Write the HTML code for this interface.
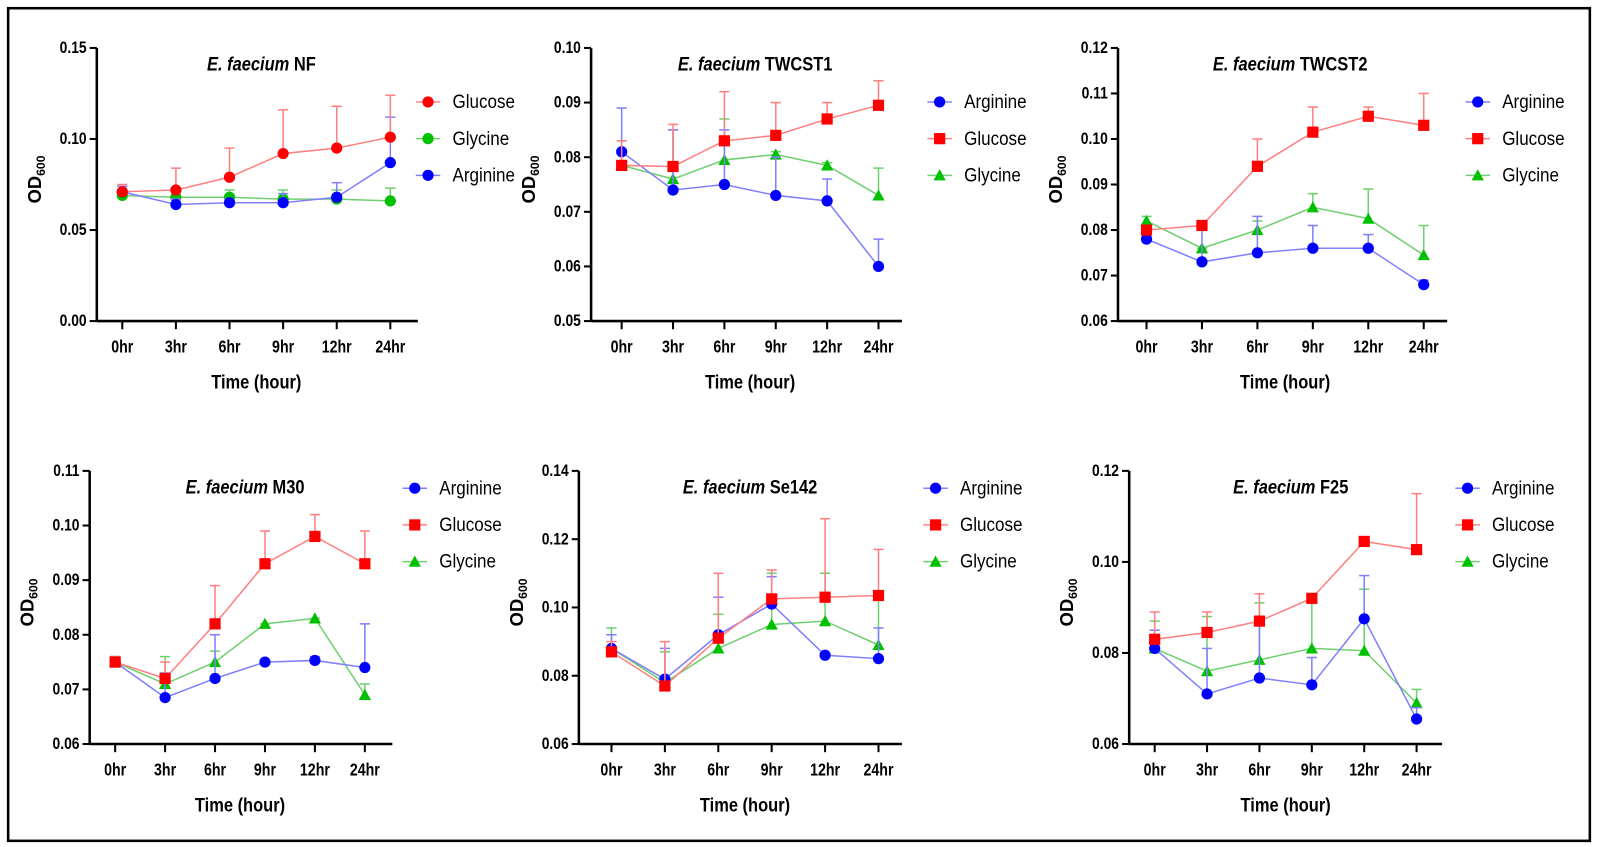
<!DOCTYPE html>
<html><head><meta charset="utf-8"><style>
html,body{margin:0;padding:0;background:#fff;}
svg{display:block;font-family:"Liberation Sans Narrow","Liberation Sans",sans-serif;}
</style></head><body>
<svg id="fig" width="1598" height="847" viewBox="0 0 1568 831" xmlns="http://www.w3.org/2000/svg">
<rect x="8" y="8" width="1552" height="817" fill="#fff" stroke="#000" stroke-width="2.5"/>
</svg>
<script>
const times = ["0hr","3hr","6hr","9hr","12hr","24hr"];
const titles = ["NF","TWCST1","TWCST2","M30","Se142","F25"];
const yTicks = [[0,0.05,0.10,0.15],[0.05,0.06,0.07,0.08,0.09,0.10],[0.06,0.07,0.08,0.09,0.10,0.11,0.12],[0.06,0.07,0.08,0.09,0.10,0.11],[0.06,0.08,0.10,0.12,0.14],[0.06,0.08,0.10,0.12]];
const legendOrder = [["Glucose","Glycine","Arginine"],["Arginine","Glucose","Glycine"],["Arginine","Glucose","Glycine"],["Arginine","Glucose","Glycine"],["Arginine","Glucose","Glycine"],["Arginine","Glucose","Glycine"]];
const arginine = [[.071,.064,.065,.065,.068,.087],[.081,.074,.075,.073,.072,.060],[.078,.073,.075,.076,.076,.068],[.075,.0685,.072,.075,.0753,.074],[.088,.079,.092,.101,.086,.085],[.081,.071,.0745,.073,.0875,.0655]];
const arginineErr = [[.074,.067,.067,.070,.076,.112],[.089,.085,.085,.080,.076,.065],[.079,.080,.083,.081,.079,.069],[.076,.073,.080,.075,.076,.082],[.092,.088,.103,.109,.086,.094],[.085,.081,.086,.079,.097,.068]];
const glucose = [[.071,.072,.079,.092,.095,.101],[.0785,.0783,.083,.084,.087,.0895],[.080,.081,.094,.1015,.105,.103],[.075,.072,.082,.093,.098,.093],[.087,.077,.091,.1025,.103,.1035],[.083,.0845,.087,.092,.1045,.1027]];
const glucoseErr = [[.075,.084,.095,.116,.118,.124],[.083,.086,.092,.090,.090,.094],[.081,.082,.100,.107,.107,.110],[.076,.075,.089,.099,.102,.099],[.090,.090,.110,.111,.126,.117],[.089,.089,.093,.092,.104,.115]];
const glycine = [[.069,.068,.068,.067,.067,.066],[.0785,.076,.0795,.0805,.0785,.073],[.082,.076,.080,.085,.0825,.0745],[.075,.071,.075,.082,.083,.069],[.088,.078,.088,.095,.096,.089],[.081,.076,.0785,.081,.0805,.069]];
const glycineErr = [[.072,.071,.072,.072,.072,.073],[.083,.085,.087,.081,.079,.078],[.083,.076,.082,.088,.089,.081],[.076,.076,.077,.082,.083,.071],[.094,.087,.098,.110,.110,.103],[.087,.088,.091,.092,.094,.072]];

const layout=[
 {ax:95,top:47,bot:315,x0:120,x1:383,end:410,lg:420},
 {ax:580,top:47,bot:315,x0:610,x1:862,end:885,lg:922},
 {ax:1097,top:47,bot:315,x0:1125,x1:1397,end:1420,lg:1450},
 {ax:88,top:462,bot:730,x0:113,x1:358,end:385,lg:407},
 {ax:568,top:462,bot:730,x0:600,x1:862,end:885,lg:918},
 {ax:1108,top:462,bot:730,x0:1133,x1:1390,end:1415,lg:1440}];
const style={Arginine:{c:"#0000ff",l:"#8080ff",m:"circle"},Glucose:{c:"#ff0000",l:"#ff8080",m:"square"},Glycine:{c:"#00c000",l:"#70d070",m:"triangle"}};
const svg=document.getElementById('fig');const NS="http://www.w3.org/2000/svg";
function el(t,a,p){const e=document.createElementNS(NS,t);for(const k in a)e.setAttribute(k,a[k]);(p||svg).appendChild(e);return e;}
function narrow(e,x,f){e.setAttribute('transform',`translate(${x},0) scale(${f},1) translate(${-x},0)`);}
function marker(g,kind,x,y,c){
 if(kind==="circle")return el('circle',{cx:x,cy:y,r:5.5,fill:c},g);
 if(kind==="square")return el('rect',{x:x-5.5,y:y-5.5,width:11,height:11,fill:c},g);
 return el('polygon',{points:`${x},${y-6} ${x+6},${y+5} ${x-6},${y+5}`,fill:c},g);}
layout.forEach((L,p)=>{
 const g=el('g',{});
 
 
 const tk=yTicks[p],ymin=tk[0],ymax=tk[tk.length-1];
 const ys=v=>L.bot-(v-ymin)/(ymax-ymin)*(L.bot-L.top);
 const xs=i=>L.x0+i*(L.x1-L.x0)/5;
 const marks={Arginine:[arginine[p],arginineErr[p]],Glucose:[glucose[p],glucoseErr[p]],Glycine:[glycine[p],glycineErr[p]]};
 const kind=p===0?"circle":null;
 const yl=el('line',{x1:L.ax,y1:L.top,x2:L.ax,y2:L.bot,stroke:"#000","stroke-width":2.5},g);
 
 const xl=el('line',{x1:L.ax,y1:L.bot,x2:L.end,y2:L.bot,stroke:"#000","stroke-width":2.5},g);
 
 tk.forEach(v=>{const y=ys(v);el('line',{x1:L.ax-7,y1:y,x2:L.ax,y2:y,stroke:"#000","stroke-width":2},g);
  const t=el('text',{x:L.ax-10,y:y+5,"text-anchor":"end","font-size":16,"font-weight":"bold"},g);t.textContent=v.toFixed(2);
  narrow(t,L.ax-10,0.85);
  });
 times.forEach((s,i)=>{const x=xs(i);el('line',{x1:x,y1:L.bot,x2:x,y2:L.bot+8,stroke:"#000","stroke-width":2},g);
  const t=el('text',{x:x,y:L.bot+31,"text-anchor":"middle","font-size":17,"font-weight":"bold"},g);t.textContent=s;
  narrow(t,x,0.82);
  });
 const xt=el('text',{x:(L.x0+L.x1)/2,y:L.bot+66,"text-anchor":"middle","font-size":19,"font-weight":"bold"},g);xt.textContent="Time (hour)";
 narrow(xt,(L.x0+L.x1)/2,0.85);
 
 const cy=(L.top+L.bot)/2-5,cx=L.ax-55;
 const yt=el('text',{x:cx,y:cy,transform:`rotate(-90 ${cx} ${cy})`,"text-anchor":"middle","font-size":18,"font-weight":"bold","font-family":"Liberation Sans, sans-serif"},g);
 yt.innerHTML='OD<tspan font-size="12" dy="4">600</tspan>';
 
 const tx=(L.x0+L.x1)/2+5;
 const tt=el('text',{x:tx,y:L.top+22,"text-anchor":"middle","font-size":19,"font-weight":"bold"},g);
 tt.innerHTML='<tspan font-style="italic">E. faecium</tspan> '+titles[p];
 narrow(tt,tx,0.85);
 
 ["Glycine","Arginine","Glucose"].forEach(n=>{const st=style[n],m=kind||st.m,[vals,errs]=marks[n];
  const sg=el('g',{},g);
  
  vals.forEach((v,i)=>{const x=xs(i);el('line',{x1:x,y1:ys(v),x2:x,y2:ys(errs[i]),stroke:st.l,"stroke-width":1.5},sg);
   el('line',{x1:x-5,y1:ys(errs[i]),x2:x+5,y2:ys(errs[i]),stroke:st.l,"stroke-width":1.5},sg);});
  el('polyline',{points:vals.map((v,i)=>xs(i)+","+ys(v)).join(" "),fill:"none",stroke:st.l,"stroke-width":1.5},sg);
  vals.forEach((v,i)=>{const mk=marker(sg,m,xs(i),ys(v),st.c);
   });
 });
 const ly0=p<3?100:479;
 legendOrder[p].forEach((n,k)=>{const st=style[n],y=ly0+k*36;
  const lg=el('g',{},g);
  
  el('line',{x1:L.lg-12,y1:y,x2:L.lg+12,y2:y,stroke:st.l,"stroke-width":1.5},lg);
  marker(lg,kind||st.m,L.lg,y,st.c);
  const t=el('text',{x:L.lg+24,y:y+6,"font-size":19},lg);t.textContent=n;
  narrow(t,L.lg+24,0.88);});
});
</script>
</body></html>
